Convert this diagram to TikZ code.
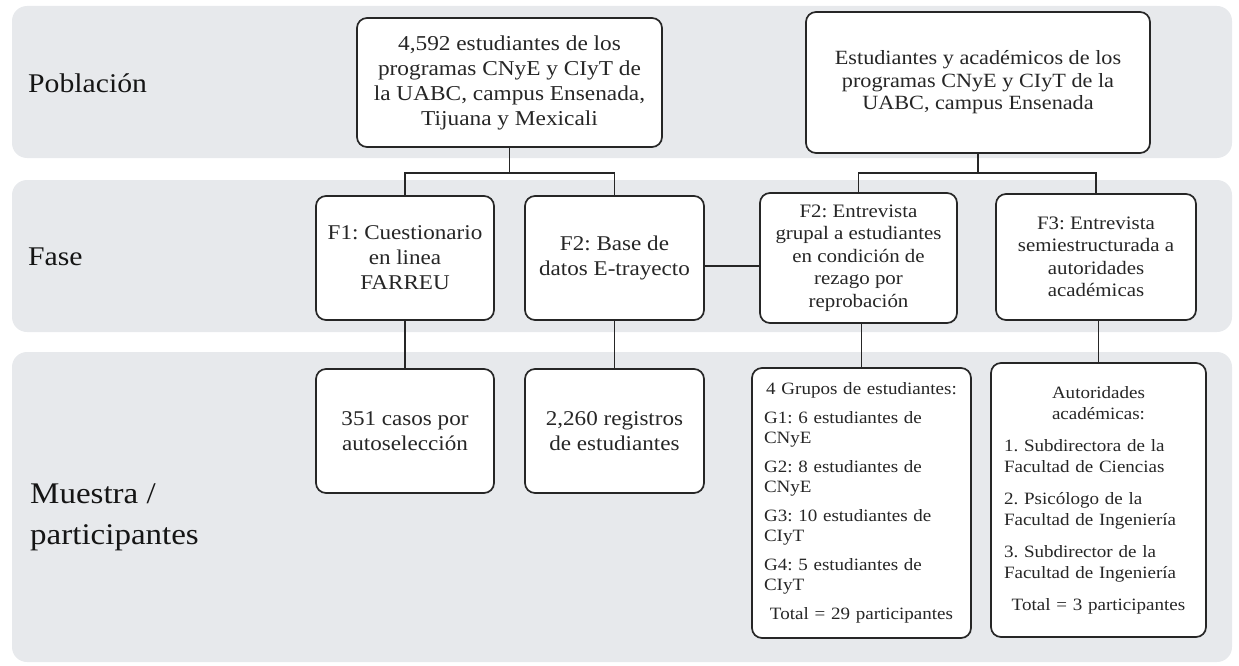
\documentclass[tikz,border=0pt]{standalone}
\usepackage{fontspec}
\setmainfont{Liberation Serif}[FakeStretch=1.1]
\newcommand\fsz[2]{\fontsize{#1}{#2}\selectfont\frenchspacing}
\definecolor{bandgray}{HTML}{E7E9EC}
\definecolor{boxline}{HTML}{262626}
\definecolor{txt}{HTML}{262626}
\definecolor{lbltxt}{HTML}{151515}
\begin{document}
\begin{tikzpicture}[x=1pt,y=-1pt,
  band/.style={fill=bandgray, rounded corners=15pt},
  box/.style={draw=boxline, line width=1.7pt, fill=white, rounded corners=10pt,
    inner sep=0pt, text=txt, align=center},
  lbl/.style={inner sep=0pt, text=lbltxt},
  conn/.style={draw=boxline, line width=1.5pt}]
\useasboundingbox (0,0) rectangle (1239,666);
% bands
\fill[band] (12,6) rectangle (1232,158);
\fill[band] (12,180) rectangle (1232,332);
\fill[band] (12,352) rectangle (1232,662);
% labels
\node[lbl, anchor=base west, font=\fsz{27}{32}] (pob) at (28,93) {Población};
\node[lbl, anchor=base west, font=\fsz{27}{32}] (fase) at (28,265) {Fase};
\node[lbl, anchor=west, align=left, font=\fsz{30}{41}] (mue) at (30,517) {Muestra /\\participantes};
% population boxes
\node[box, minimum width=305, minimum height=129, font=\fsz{21.2}{25}] (A) at (509.5,82.5)
  {4,592 estudiantes de los\\programas CNyE y CIyT de\\la UABC, campus Ensenada,\\Tijuana y Mexicali};
\node[box, minimum width=344, minimum height=141, font=\fsz{20.2}{22.5}] (B) at (978,82.5)
  {Estudiantes y académicos de los\\programas CNyE y CIyT de la\\UABC, campus Ensenada};
% phase boxes
\node[box, minimum width=178, minimum height=124, font=\fsz{21}{25}] (F1) at (405,258)
  {F1: Cuestionario\\en linea\\FARREU};
\node[box, minimum width=179, minimum height=124, font=\fsz{21}{25}] (F2) at (614.5,258)
  {F2: Base de\\datos E-trayecto};
\node[box, minimum width=197, minimum height=130, font=\fsz{19}{22.5}] (F2b) at (858.5,258)
  {F2: Entrevista\\grupal a estudiantes\\en condición de\\rezago por\\reprobación};
\node[box, minimum width=200, minimum height=126, font=\fsz{19}{22.5}] (F3) at (1096,257)
  {F3: Entrevista\\semiestructurada a\\autoridades\\académicas};
% sample boxes
\node[box, minimum width=178, minimum height=124, font=\fsz{21}{25}] (C1) at (405,431)
  {351 casos por\\autoselección};
\node[box, minimum width=179, minimum height=124, font=\fsz{21}{25}] (C2) at (614.5,431)
  {2,260 registros\\de estudiantes};
\node[box, minimum width=219, minimum height=270, text width=195pt, align=left,
  font=\fsz{17.3}{20}] (G) at (861.5,503) {%
  {\centering 4 Grupos de estudiantes:\par}\vspace{9pt}
  G1: 6 estudiantes de\newline CNyE\par\vspace{9pt}
  G2: 8 estudiantes de\newline CNyE\par\vspace{9pt}
  G3: 10 estudiantes de\newline CIyT\par\vspace{9pt}
  G4: 5 estudiantes de\newline CIyT\par\vspace{9pt}
  {\centering Total = 29 participantes\par}};
\node[box, minimum width=215, minimum height=274, text width=189pt, align=left,
  font=\fsz{17.3}{21.5}] (Au) at (1098.5,500) {%
  {\centering Autoridades\par académicas:\par}\vspace{10pt}
  1. Subdirectora de la\newline Facultad de Ciencias\par\vspace{10pt}
  2. Psicólogo de la\newline Facultad de Ingeniería\par\vspace{10pt}
  3. Subdirector de la\newline Facultad de Ingeniería\par\vspace{10pt}
  {\centering Total = 3 participantes\par}};
% connectors
\coordinate (mid) at (730,266);
\draw[conn] (A.south) -- ++(0,25) -| (F1.north);
\draw[conn] (A.south) ++(0,25) -| (F2.north);
\draw[conn] (B.south) -- ++(0,19) -| (F2b.north);
\draw[conn] (B.south) ++(0,19) -| (F3.north);
\draw[conn] (F2.east |- mid) -- (F2b.west |- mid);
\draw[conn] (F1.south) -- (C1.north);
\draw[conn] (F2.south) -- (C2.north);
\draw[conn] (G.north) -- (G.north |- F2b.south);
\draw[conn] (Au.north) -- (Au.north |- F3.south);
\end{tikzpicture}
\end{document}
